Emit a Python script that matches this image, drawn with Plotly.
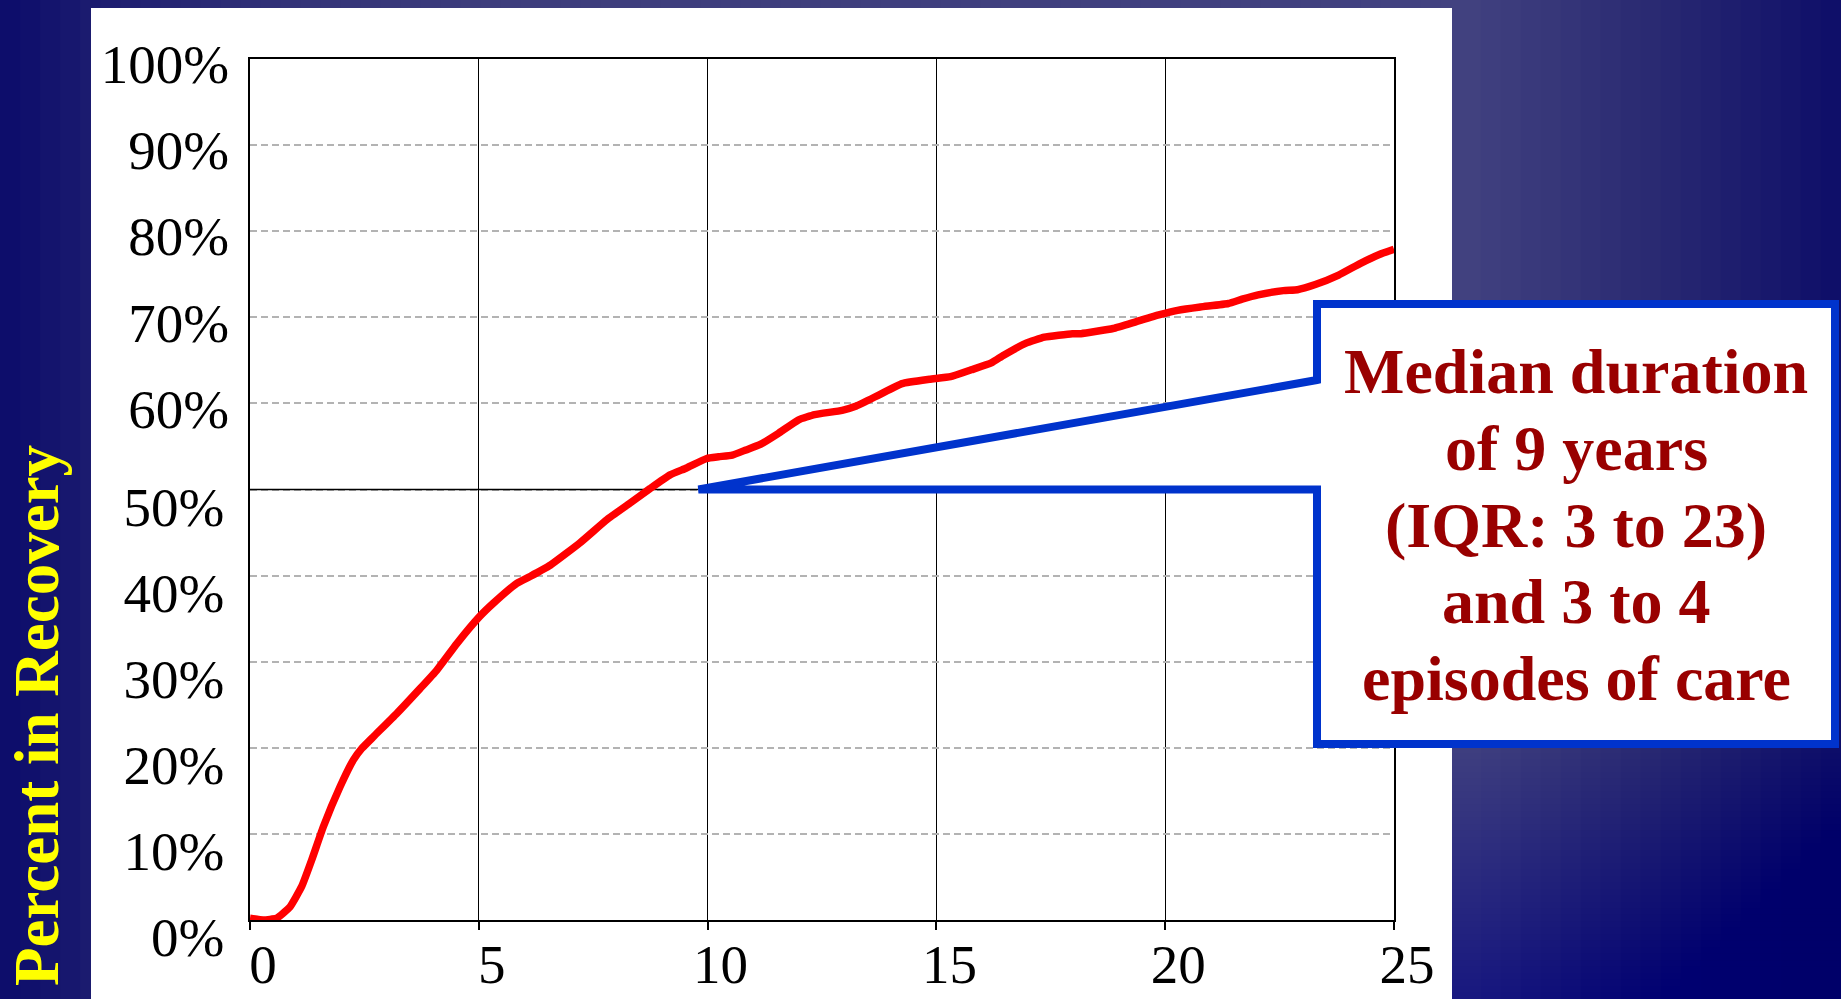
import plotly.graph_objects as go

# ---------------- data ----------------
years = [0, 0.29, 0.58, 0.87, 1.13, 1.35, 1.60, 1.97, 2.26, 2.44, 2.70, 3.21, 3.72, 4.08, 4.52,
         5.01, 5.32, 5.83, 6.12, 6.56, 7.21, 7.80, 8.30, 8.74, 9.18, 9.54, 9.98, 10.24, 10.54,
         10.84, 11.14, 11.54, 11.99, 12.34, 12.94, 13.25, 13.75, 14.25, 14.85, 15.31, 15.76,
         16.20, 16.47, 16.96, 17.36, 17.97, 18.16, 18.86, 19.37, 19.88, 20.27, 20.77, 21.38,
         21.68, 22.03, 22.58, 22.89, 23.28, 23.79, 24.28, 24.68, 25.0]
pct_recovery = [0.2, 0.0, 0.2, 1.5, 3.9, 7.0, 10.8, 15.5, 18.6, 19.9, 21.3, 24.0, 26.9, 29.0, 32.1,
                35.2, 36.8, 39.1, 39.9, 41.2, 43.8, 46.5, 48.4, 50.1, 51.7, 52.5, 53.6, 53.8, 54.0,
                54.6, 55.2, 56.5, 58.1, 58.7, 59.2, 59.7, 61.0, 62.3, 62.8, 63.1, 63.9,
                64.7, 65.6, 67.0, 67.7, 68.1, 68.1, 68.7, 69.5, 70.3, 70.8, 71.2, 71.6,
                72.1, 72.6, 73.1, 73.2, 73.8, 74.9, 76.3, 77.3, 77.9]

x_ticks = [0, 5, 10, 15, 20, 25]
x_tick_labels = ["0", "5", "10", "15", "20", "25"]
y_ticks_low = [0, 10, 20, 30, 40, 50]
y_labels_low = ["0%", "10%", "20%", "30%", "40%", "50%"]
y_ticks_high = [60, 70, 80, 90, 100]
y_labels_high = ["60%", "70%", "80%", "90%", "100%"]

median_years = 9.8   # where the callout points (50% line)
median_pct = 50

y_title = "Percent in Recovery"
callout_lines = ["Median duration", "of 9 years", "(IQR: 3 to 23)", "and 3 to 4", "episodes of care"]

# ---------------- layout geometry (pixels) ----------------
W, H = 1841, 999
L, R, T, B = 250, 1394, 59, 920


def px_x(px):
    return (px - L) / (R - L)


def px_y(py):
    return (B - py) / (B - T)


# background gradient stops (x pixel, rgb)
grad_stops = [(0, (11, 11, 107)), (90, (27, 27, 111)), (300, (52, 52, 120)), (500, (61, 61, 124)),
              (1460, (66, 66, 128)), (1650, (42, 42, 114)), (1841, (14, 14, 105))]


def grad_color(px):
    for (xa, ca), (xb, cb) in zip(grad_stops[:-1], grad_stops[1:]):
        if xa <= px <= xb:
            t = (px - xa) / (xb - xa) if xb > xa else 0
            return "rgb(%d,%d,%d)" % tuple(round(a + (b - a) * t) for a, b in zip(ca, cb))
    return "rgb(%d,%d,%d)" % grad_stops[-1][1]


shapes = []
N = 92
sw = W / N
for i in range(N):
    x0 = i * sw
    x1 = (i + 1) * sw + 1
    shapes.append(dict(type="rect", xref="paper", yref="paper", layer="below",
                       x0=px_x(x0), x1=px_x(x1), y0=px_y(H + 2), y1=px_y(-2),
                       fillcolor=grad_color(x0 + sw / 2), line=dict(width=0)))
# darker toward the bottom on the right side (stacked thin bands, cumulative)
NB = 40
band_h = 259 / NB
for j in range(NB):
    y0p = 740 + j * band_h
    shapes.append(dict(type="rect", xref="paper", yref="paper", layer="below",
                       x0=px_x(1452), x1=px_x(W + 2), y0=px_y(H + 2), y1=px_y(y0p),
                       fillcolor="rgba(18,18,104,0.016)", line=dict(width=0)))
# white panel
shapes.append(dict(type="rect", xref="paper", yref="paper", layer="below",
                   x0=px_x(91), x1=px_x(1452), y0=px_y(H + 2), y1=px_y(8),
                   fillcolor="white", line=dict(width=0)))

# callout (box + wedge), one closed outline
bx0, bx1, by0, by1 = 1317, 1835, 304, 744
wedge_top = 380
tip_x = median_years / 25.0
tip_y = median_pct / 100.0
pts = [(px_x(bx0), px_y(wedge_top)), (tip_x, tip_y), (px_x(bx0), tip_y), (px_x(bx0), px_y(by1)),
       (px_x(bx1), px_y(by1)), (px_x(bx1), px_y(by0)), (px_x(bx0), px_y(by0))]
path = "M " + " L ".join("%.5f,%.5f" % p for p in pts) + " Z"
shapes.append(dict(type="path", xref="paper", yref="paper", layer="above", path=path,
                   fillcolor="white", line=dict(color="#0033cc", width=8)))

# ---------------- figure ----------------
fig = go.Figure()
fig.add_trace(go.Scatter(x=[0, median_years], y=[median_pct, median_pct], mode="lines",
                         line=dict(color="black", width=1.5), hoverinfo="skip", showlegend=False))
fig.add_trace(go.Scatter(x=years, y=pct_recovery, mode="lines",
                         line=dict(color="#ff0000", width=7.5, shape="spline", smoothing=0.4),
                         showlegend=False))
fig.add_trace(go.Scatter(x=[0], y=[0], yaxis="y2", mode="lines", line=dict(width=0),
                         hoverinfo="skip", showlegend=False))

tickfont = dict(family="Liberation Serif, Times New Roman, serif", size=55, color="black")

annotations = [dict(text="<b>%s</b>" % y_title, xref="paper", yref="paper",
                    x=px_x(37), y=px_y(716), textangle=-90, showarrow=False,
                    xanchor="center", yanchor="middle",
                    font=dict(family="Liberation Serif, Times New Roman, serif", size=63, color="#ffff00"))]
baselines = [393, 470, 547, 623, 700]
for line, bl in zip(callout_lines, baselines):
    annotations.append(dict(text="<b>%s</b>" % line, xref="paper", yref="paper",
                            x=px_x(1576), y=px_y(bl - 21.6), showarrow=False,
                            xanchor="center", yanchor="middle",
                            font=dict(family="Liberation Serif, Times New Roman, serif", size=64,
                                      color="#990000")))

fig.update_layout(
    width=W, height=H,
    margin=dict(l=L, r=W - R, t=T, b=H - B, pad=0),
    paper_bgcolor="#1a1a6e",
    plot_bgcolor="white",
    shapes=shapes,
    annotations=annotations,
    xaxis=dict(range=[0, 25], tickmode="array", tickvals=x_ticks, ticktext=x_tick_labels,
               showgrid=True, gridcolor="black", gridwidth=1.3, zeroline=False,
               showline=True, mirror=True, linecolor="black", linewidth=2,
               ticks="outside", ticklen=8, tickwidth=1.5, tickcolor="black",
               tickfont=tickfont, ticklabelshift=13, ticklabelstandoff=-13,
               automargin=False, fixedrange=True),
    yaxis=dict(range=[0, 100], tickmode="array", tickvals=y_ticks_low + y_ticks_high,
               ticktext=y_labels_low + [""] * len(y_ticks_high),
               showgrid=True, gridcolor="#b3b3b3", gridwidth=1.5, griddash="7px,4px",
               zeroline=False, showline=True, mirror=True, linecolor="black", linewidth=1.5,
               ticks="", tickfont=tickfont, ticklabelshift=17, ticklabelstandoff=13,
               automargin=False, fixedrange=True),
    yaxis2=dict(range=[0, 100], overlaying="y", side="left", anchor="x",
                tickmode="array", tickvals=y_ticks_high, ticktext=y_labels_high,
                showgrid=False, zeroline=False, showline=False, ticks="",
                tickfont=tickfont, ticklabelshift=5, ticklabelstandoff=20,
                automargin=False, fixedrange=True),
    showlegend=False,
)

fig.write_html("out.html", config={"displayModeBar": False},
               post_script="document.body.style.margin='0';document.body.style.overflow='hidden';")
